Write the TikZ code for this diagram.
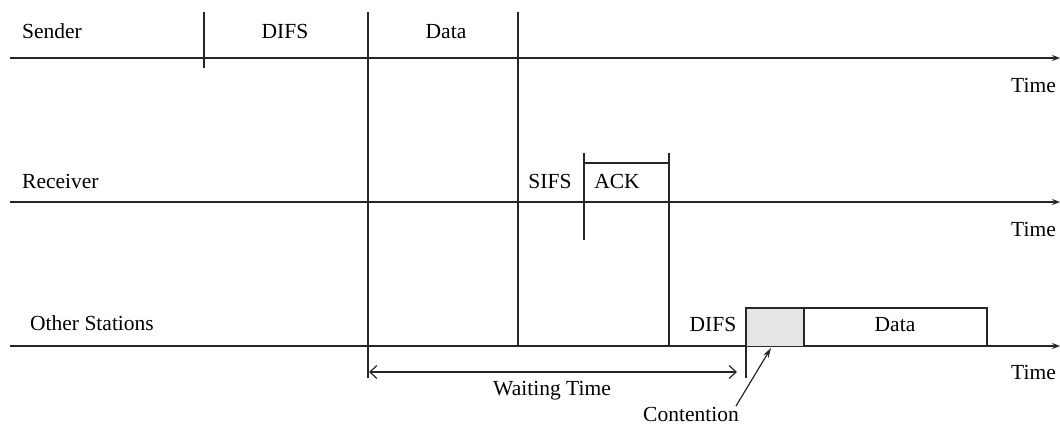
\documentclass[tikz,border=0pt]{standalone}
\usepackage{fontspec}
\setmainfont{Liberation Serif}
\usetikzlibrary{arrows.meta}
\tikzset{barb/.tip={Straight Barb[length=7pt,width=13pt]}}
\begin{document}
\begin{tikzpicture}[x=1pt,y=-1pt,
  lbl/.style={inner sep=0pt,font=\fontsize{21.5}{24}\selectfont},
  ln/.style={line width=1.2pt,black!85},
  axis/.style={ln,-{Stealth[length=8pt,width=6pt]}}]
\useasboundingbox (0,0) rectangle (1060,426);

% time axes
\coordinate (s0) at (10,58);   \coordinate (s1) at (1060,58);
\coordinate (r0) at (10,202);  \coordinate (r1) at (1060,202);
\coordinate (o0) at (10,346);  \coordinate (o1) at (1060,346);
\draw[axis] (s0) -- (s1);
\draw[axis] (r0) -- (r1);
\draw[axis] (o0) -- (o1);

\node[lbl,anchor=base east] (t1) at (1056,92) {Time};
\node[lbl,anchor=base east] (t2) at (1056,236) {Time};
\node[lbl,anchor=base east] (t3) at (1056,379) {Time};

% row labels
\node[lbl,anchor=base west] (snd) at (22,38) {Sender};
\node[lbl,anchor=base west] (rcv) at (22,188) {Receiver};
\node[lbl,anchor=base west] (oth) at (30,330) {Other Stations};

% sender: DIFS and Data
\coordinate (a0) at (204,12); \coordinate (a1) at (204,68);
\coordinate (b0) at (368,12); \coordinate (b1) at (368,378);
\coordinate (c0) at (518,12); \coordinate (c1) at (518,346);
\draw[ln] (a0) -- (a1);
\draw[ln] (b0) -- (b1);
\draw[ln] (c0) -- (c1);
\node[lbl,anchor=base] (difs1) at (285,38) {DIFS};
\node[lbl,anchor=base] (data1) at (446,38) {Data};

% receiver: SIFS and ACK
\coordinate (k0) at (584,153); \coordinate (k1) at (584,240);
\coordinate (k2) at (669,153); \coordinate (k3) at (669,346);
\draw[ln] (k0) -- (k1);
\draw[ln] (k2) -- (k3);
\draw[ln] (584,163) -- (669,163);
\node[lbl,anchor=base] (sifs) at (550,188) {SIFS};
\node[lbl,anchor=base] (ack) at (617,188) {ACK};

% other stations: DIFS, contention window and Data
\fill[black!10] (747,309) rectangle (804,346);
\draw[ln] (746,378) -- (746,308) -- (987,308) -- (987,346);
\draw[ln] (804,308) -- (804,346);
\node[lbl,anchor=base] (difs2) at (713,331) {DIFS};
\node[lbl,anchor=base] (data2) at (895,331) {Data};

% waiting time
\coordinate (w0) at (369,372); \coordinate (w1) at (737,372);
\draw[ln,barb-barb] (w0) -- (w1);
\node[lbl,anchor=base] (wt) at (552,395) {Waiting Time};

% contention
\node[lbl,anchor=base] (cont) at (691,421) {Contention};
\coordinate (cb) at (736,406);
\coordinate (ct) at (771,348);
\draw[ln,-{Stealth[length=10pt,width=6pt]}] (cb) -- (ct);
\end{tikzpicture}
\end{document}
